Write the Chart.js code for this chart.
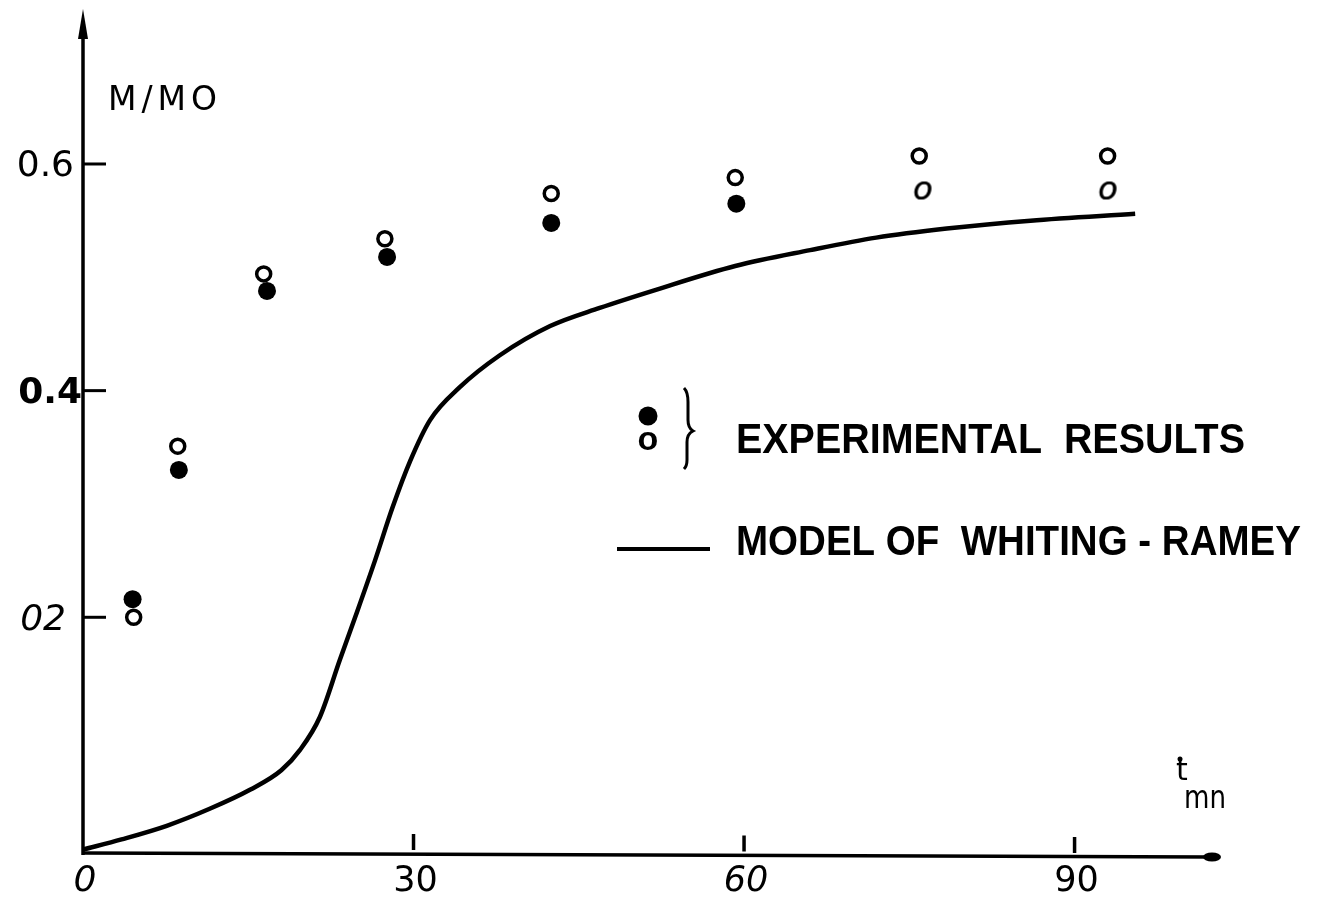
<!DOCTYPE html>
<html>
<head>
<meta charset="utf-8">
<title>M/MO vs time</title>
<script src="https://cdn.jsdelivr.net/npm/chart.js@4"></script>
<style>
  html, body { margin: 0; padding: 0; background: #fff; }
  #wrap { width: 1324px; height: 907px; }
</style>
</head>
<body>
<div id="wrap"><canvas id="chart" width="1324" height="907"></canvas></div>
<script>
// experimental results, time in minutes
const openX = [4.6, 8.6, 16.4, 27.4, 42.5, 59.2, 75.9, 93.0];
const openY = [0.200, 0.351, 0.503, 0.534, 0.574, 0.588, 0.607, 0.607];
const filledX = [4.5, 8.7, 16.7, 27.6, 42.5, 59.3];
const filledY = [0.216, 0.330, 0.488, 0.518, 0.548, 0.565];
const letterX = [76.2, 93.0];
const letterY = [0.574, 0.574];

// Whiting-Ramey model curve
const modelX = [0, 3.5, 7.6, 11.5, 15.2, 18.0, 19.7, 21.5, 23.3, 24.7, 26.5, 28.1, 29.7,
                31.5, 34.2, 37.8, 42.4, 46.9, 52.0, 59.2, 66.0, 72.0, 78.4, 86.0, 95.5];
const modelY = [-0.005, 0.004, 0.016, 0.031, 0.048, 0.065, 0.083, 0.112, 0.162, 0.200, 0.250, 0.297, 0.338,
                0.374, 0.403, 0.431, 0.457, 0.473, 0.489, 0.510, 0.524, 0.535, 0.543, 0.550, 0.556];

const xTicks = [0, 30, 60, 90];
const xTickLabels = ['0', '30', '60', '90'];
const yTicks = [0.2, 0.4, 0.6];
const yTickLabels = ['02', '0.4', '0.6'];

const legendText = ['EXPERIMENTAL  RESULTS', 'MODEL OF  WHITING - RAMEY'];

const pts = (xs, ys) => xs.map((v, i) => ({ x: v, y: ys[i] }));

// small italic "o" used as a marker
function letterMarker() {
  const c = document.createElement('canvas');
  c.width = 36; c.height = 36;
  const g = c.getContext('2d');
  g.fillStyle = '#000';
  g.font = 'italic 32px "DejaVu Sans"';
  g.textAlign = 'center';
  g.textBaseline = 'middle';
  g.fillText('o', 18, 16);
  g.fillText('o', 18.6, 16);
  return c;
}

function fitText(ctx, text, left, cy, width, font) {
  ctx.font = font;
  const w = ctx.measureText(text).width;
  ctx.save();
  ctx.translate(left, cy);
  ctx.scale(width / w, 1);
  ctx.textAlign = 'left';
  ctx.textBaseline = 'middle';
  ctx.fillText(text, 0, 0);
  ctx.restore();
}

// hand-drawn style axes, ticks, labels and legend
const frame = {
  id: 'frame',
  afterDraw(chart) {
    const { ctx, chartArea: a, scales: { x, y } } = chart;
    ctx.save();
    ctx.fillStyle = '#000';
    ctx.strokeStyle = '#000';
    ctx.lineCap = 'butt';

    // y axis with arrow
    ctx.lineWidth = 3.5;
    ctx.beginPath();
    ctx.moveTo(a.left, a.bottom + 2);
    ctx.lineTo(a.left, a.top + 20);
    ctx.stroke();
    ctx.beginPath();
    ctx.moveTo(a.left, a.top - 2);
    ctx.lineTo(a.left + 5, a.top + 28);
    ctx.lineTo(a.left - 5, a.top + 28);
    ctx.closePath();
    ctx.fill();

    // x axis with arrow
    ctx.beginPath();
    ctx.moveTo(a.left, a.bottom);
    ctx.lineTo(a.right - 10, a.bottom + 4);
    ctx.stroke();
    ctx.beginPath();
    ctx.ellipse(a.right - 8, a.bottom + 4, 9, 4.5, 0, 0, Math.PI * 2);
    ctx.fill();

    // y ticks
    ctx.lineWidth = 3;
    yTicks.forEach(v => {
      const py = y.getPixelForValue(v);
      ctx.beginPath();
      ctx.moveTo(a.left, py);
      ctx.lineTo(a.left + 23, py);
      ctx.stroke();
    });
    // x ticks
    ctx.lineWidth = 3.5;
    xTicks.slice(1).forEach((v, i) => {
      const px = x.getPixelForValue(v);
      const base = a.bottom + 1 + i * 1.5;
      ctx.beginPath();
      ctx.moveTo(px, base - 4);
      ctx.lineTo(px, base - 20);
      ctx.stroke();
    });

    // y tick labels
    const yFonts = ['italic 36px "DejaVu Sans"', 'bold 36px "DejaVu Sans"', '36px "DejaVu Sans"'];
    const yRight = [66, 82, 74];
    ctx.textAlign = 'right';
    ctx.textBaseline = 'middle';
    yTicks.forEach((v, i) => {
      ctx.font = yFonts[i];
      ctx.fillText(yTickLabels[i], yRight[i], y.getPixelForValue(v) + 3);
    });

    // x tick labels
    const xFonts = ['italic 36px "DejaVu Sans"', '35px "DejaVu Sans"', 'italic 35px "DejaVu Sans"', '35px "DejaVu Sans"'];
    ctx.textAlign = 'center';
    xTicks.forEach((v, i) => {
      ctx.font = xFonts[i];
      ctx.fillText(xTickLabels[i], x.getPixelForValue(v) + 2, a.bottom + 29);
    });

    // axis titles
    ctx.textAlign = 'left';
    ctx.font = '33px "DejaVu Sans"';
    ctx.letterSpacing = '5px';
    ctx.fillText('M/MO', a.left + 25, 101);
    ctx.letterSpacing = '0px';
    ctx.font = '30px "DejaVu Sans"';
    ctx.fillText('t', 1176, 772);
    ctx.beginPath();
    ctx.arc(1180, 759, 2.5, 0, Math.PI * 2);
    ctx.fill();
    fitText(ctx, 'mn', 1184, 800, 42, '32px "DejaVu Sans"');

    // legend
    ctx.beginPath();
    ctx.arc(648, 416, 9.5, 0, Math.PI * 2);
    ctx.fill();
    ctx.font = 'bold 34px "Liberation Sans"';
    ctx.textAlign = 'center';
    ctx.fillText('o', 648, 441);

    ctx.lineWidth = 3;
    ctx.beginPath();
    ctx.moveTo(684, 388);
    ctx.quadraticCurveTo(688, 392, 688, 402);
    ctx.lineTo(688, 420);
    ctx.quadraticCurveTo(688, 428, 693, 431);
    ctx.quadraticCurveTo(687, 434, 687, 442);
    ctx.lineTo(687, 460);
    ctx.quadraticCurveTo(687, 466, 684, 469);
    ctx.stroke();

    fitText(ctx, legendText[0], 736, 441, 509, 'bold 42px "Liberation Sans"');

    ctx.lineWidth = 4;
    ctx.beginPath();
    ctx.moveTo(617, 549);
    ctx.lineTo(710, 549);
    ctx.stroke();
    fitText(ctx, legendText[1], 736, 543, 565, 'bold 42px "Liberation Sans"');

    ctx.restore();
  }
};

new Chart(document.getElementById('chart'), {
  type: 'scatter',
  data: {
    datasets: [
      {
        type: 'line',
        label: 'Model of Whiting-Ramey',
        data: pts(modelX, modelY),
        borderColor: '#000',
        borderWidth: 4.5,
        pointRadius: 0,
        cubicInterpolationMode: 'monotone',
        fill: false
      },
      {
        label: 'Experimental (open)',
        data: pts(openX, openY),
        pointRadius: 7,
        pointBorderWidth: 3.5,
        pointBackgroundColor: '#fff',
        pointBorderColor: '#000'
      },
      {
        label: 'Experimental (filled)',
        data: pts(filledX, filledY),
        pointRadius: 9,
        pointBorderWidth: 0,
        pointBackgroundColor: '#000',
        pointBorderColor: '#000'
      },
      {
        label: 'Experimental (o)',
        data: pts(letterX, letterY),
        pointStyle: letterMarker(),
        pointRadius: 10
      }
    ]
  },
  options: {
    responsive: false,
    animation: false,
    layout: { padding: { left: 83, right: 104, top: 10, bottom: 54 } },
    scales: {
      x: { type: 'linear', min: 0, max: 103.2, display: false },
      y: { type: 'linear', min: -0.008, max: 0.735, display: false }
    },
    plugins: {
      legend: { display: false },
      tooltip: { enabled: false }
    }
  },
  plugins: [frame]
});
</script>
</body>
</html>
